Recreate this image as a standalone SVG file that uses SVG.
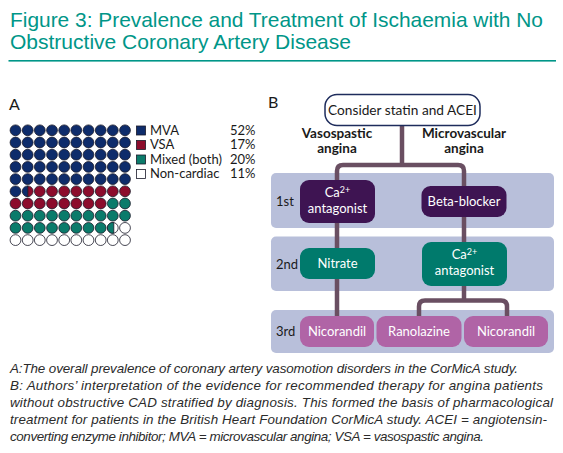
<svg xmlns="http://www.w3.org/2000/svg" width="563" height="453" viewBox="0 0 563 453">
<style>
.title{font-family:"Liberation Sans",Arial,sans-serif;font-size:21px;fill:#009688}
.cap{font-family:"Liberation Sans",Arial,sans-serif;font-size:13.4px;font-style:italic;fill:#2b2b2b}
.lbl{font-family:Lato,"Noto Sans",sans-serif;font-size:16px;fill:#1a1a1a}
.leg{font-family:Lato,"Noto Sans",sans-serif;font-size:13px;fill:#1a1a1a}
.nt{font-family:Lato,"Noto Sans",sans-serif;font-size:13px;fill:#ffffff;text-anchor:middle}
.bt{font-family:Lato,"Noto Sans",sans-serif;font-size:13.5px;font-weight:bold;fill:#1a1a1a;text-anchor:middle}
.band{fill:#b8bfda}
.conn{fill:none;stroke:#6a4f62;stroke-width:4.5}
.b{fill:#0e2c6b;stroke:#1a1a2a;stroke-width:0.8}
.r{fill:#8c0c2c;stroke:#1a1a2a;stroke-width:0.8}
.g{fill:#0b7b6b;stroke:#1a1a2a;stroke-width:0.8}
.w{fill:#ffffff;stroke:#1a1a2a;stroke-width:0.8}
.dp{fill:#3e1452}
.tl{fill:#007a6c}
.pk{fill:#b064a6}
</style>
<defs>
<circle id="d" r="5.4"/>
</defs>
<g id="title">
<text class="title" x="10" y="27.3" textLength="533" lengthAdjust="spacingAndGlyphs">Figure 3: Prevalence and Treatment of Ischaemia with No</text>
<text class="title" x="10" y="49" textLength="341" lengthAdjust="spacingAndGlyphs">Obstructive Coronary Artery Disease</text>
<rect x="8.5" y="60" width="547.5" height="1.6" fill="#009688"/>
</g>
<g id="panelA">
<text class="lbl" x="9" y="110">A</text>
<g id="waffle">
<g class="b">
<use href="#d" x="15.5" y="130.3"/><use href="#d" x="27.7" y="130.3"/><use href="#d" x="39.8" y="130.3"/><use href="#d" x="52" y="130.3"/><use href="#d" x="64.2" y="130.3"/><use href="#d" x="76.3" y="130.3"/><use href="#d" x="88.5" y="130.3"/><use href="#d" x="100.7" y="130.3"/><use href="#d" x="112.8" y="130.3"/><use href="#d" x="125" y="130.3"/>
<use href="#d" x="15.5" y="142.5"/><use href="#d" x="27.7" y="142.5"/><use href="#d" x="39.8" y="142.5"/><use href="#d" x="52" y="142.5"/><use href="#d" x="64.2" y="142.5"/><use href="#d" x="76.3" y="142.5"/><use href="#d" x="88.5" y="142.5"/><use href="#d" x="100.7" y="142.5"/><use href="#d" x="112.8" y="142.5"/><use href="#d" x="125" y="142.5"/>
<use href="#d" x="15.5" y="154.7"/><use href="#d" x="27.7" y="154.7"/><use href="#d" x="39.8" y="154.7"/><use href="#d" x="52" y="154.7"/><use href="#d" x="64.2" y="154.7"/><use href="#d" x="76.3" y="154.7"/><use href="#d" x="88.5" y="154.7"/><use href="#d" x="100.7" y="154.7"/><use href="#d" x="112.8" y="154.7"/><use href="#d" x="125" y="154.7"/>
<use href="#d" x="15.5" y="166.9"/><use href="#d" x="27.7" y="166.9"/><use href="#d" x="39.8" y="166.9"/><use href="#d" x="52" y="166.9"/><use href="#d" x="64.2" y="166.9"/><use href="#d" x="76.3" y="166.9"/><use href="#d" x="88.5" y="166.9"/><use href="#d" x="100.7" y="166.9"/><use href="#d" x="112.8" y="166.9"/><use href="#d" x="125" y="166.9"/>
<use href="#d" x="15.5" y="179.1"/><use href="#d" x="27.7" y="179.1"/><use href="#d" x="39.8" y="179.1"/><use href="#d" x="52" y="179.1"/><use href="#d" x="64.2" y="179.1"/><use href="#d" x="76.3" y="179.1"/><use href="#d" x="88.5" y="179.1"/><use href="#d" x="100.7" y="179.1"/><use href="#d" x="112.8" y="179.1"/><use href="#d" x="125" y="179.1"/>
<use href="#d" x="15.5" y="191.3"/>
</g>
<path class="r" d="M27.7,185.9 A5.4,5.4 0 0 1 27.7,196.7 Z"/>
<path class="b" d="M27.7,185.9 A5.4,5.4 0 0 0 27.7,196.7 Z"/>
<g class="r">
<use href="#d" x="39.8" y="191.3"/><use href="#d" x="52" y="191.3"/><use href="#d" x="64.2" y="191.3"/><use href="#d" x="76.3" y="191.3"/><use href="#d" x="88.5" y="191.3"/><use href="#d" x="100.7" y="191.3"/><use href="#d" x="112.8" y="191.3"/><use href="#d" x="125" y="191.3"/>
<use href="#d" x="15.5" y="203.5"/><use href="#d" x="27.7" y="203.5"/><use href="#d" x="39.8" y="203.5"/><use href="#d" x="52" y="203.5"/><use href="#d" x="64.2" y="203.5"/><use href="#d" x="76.3" y="203.5"/><use href="#d" x="88.5" y="203.5"/><use href="#d" x="100.7" y="203.5"/>
</g>
<g class="g">
<use href="#d" x="112.8" y="203.5"/><use href="#d" x="125" y="203.5"/>
<use href="#d" x="15.5" y="215.7"/><use href="#d" x="27.7" y="215.7"/><use href="#d" x="39.8" y="215.7"/><use href="#d" x="52" y="215.7"/><use href="#d" x="64.2" y="215.7"/><use href="#d" x="76.3" y="215.7"/><use href="#d" x="88.5" y="215.7"/><use href="#d" x="100.7" y="215.7"/><use href="#d" x="112.8" y="215.7"/><use href="#d" x="125" y="215.7"/>
<use href="#d" x="15.5" y="227.9"/><use href="#d" x="27.7" y="227.9"/><use href="#d" x="39.8" y="227.9"/><use href="#d" x="52" y="227.9"/><use href="#d" x="64.2" y="227.9"/><use href="#d" x="76.3" y="227.9"/><use href="#d" x="88.5" y="227.9"/><use href="#d" x="100.7" y="227.9"/>
</g>
<use class="w" href="#d" x="112.8" y="227.9"/>
<path class="g" d="M113.8,222.6 A5.4,5.4 0 1 0 113.8,233.2 Z"/>
<g class="w">
<use href="#d" x="125" y="227.9"/>
<use href="#d" x="15.5" y="240.1"/><use href="#d" x="27.7" y="240.1"/><use href="#d" x="39.8" y="240.1"/><use href="#d" x="52" y="240.1"/><use href="#d" x="64.2" y="240.1"/><use href="#d" x="76.3" y="240.1"/><use href="#d" x="88.5" y="240.1"/><use href="#d" x="100.7" y="240.1"/><use href="#d" x="112.8" y="240.1"/><use href="#d" x="125" y="240.1"/>
</g>
</g>
<g id="legend">
<rect class="b" x="136.5" y="126" width="9" height="9"/>
<rect class="r" x="136.5" y="140.5" width="9" height="9"/>
<rect class="g" x="136.5" y="155" width="9" height="9"/>
<rect class="w" x="136.5" y="169.5" width="9" height="9"/>
<text class="leg" x="150" y="134.5">MVA</text>
<text class="leg" x="150" y="149">VSA</text>
<text class="leg" x="150" y="163.5">Mixed (both)</text>
<text class="leg" x="150" y="178">Non-cardiac</text>
<text class="leg" x="255.5" y="134.5" text-anchor="end">52%</text>
<text class="leg" x="255.5" y="149" text-anchor="end">17%</text>
<text class="leg" x="255.5" y="163.5" text-anchor="end">20%</text>
<text class="leg" x="255.5" y="178" text-anchor="end">11%</text>
</g>
</g>
<g id="panelB">
<text class="lbl" x="268" y="108">B</text>
<g id="bands">
<rect class="band" x="271" y="173" width="283" height="55" rx="5"/>
<rect class="band" x="271" y="236.5" width="283" height="54.5" rx="5"/>
<rect class="band" x="271" y="310" width="283" height="43" rx="5"/>
<text class="leg" x="276" y="206">1st</text>
<text class="leg" x="276" y="268.5">2nd</text>
<text class="leg" x="276" y="336">3rd</text>
</g>
<g id="connectors">
<path class="conn" d="M402,126 V165"/>
<path class="conn" d="M337,182 V171 Q337,165 343,165 H458 Q464,165 464,171 V188"/>
<path class="conn" d="M337,222 V318"/>
<path class="conn" d="M464,215 V244"/>
<path class="conn" d="M464,285 V300.5"/>
<path class="conn" d="M419,318 V306.5 Q419,300.5 425,300.5 H501 Q507,300.5 507,306.5 V318"/>
</g>
<text class="bt" x="337" y="138">Vasospastic</text>
<text class="bt" x="337" y="153">angina</text>
<text class="bt" x="464" y="138">Microvascular</text>
<text class="bt" x="464" y="153">angina</text>
<g id="n-statin">
<rect x="325" y="94.5" width="155" height="31" rx="12" fill="#ffffff" stroke="#1e2c5c" stroke-width="1.5"/>
<text class="leg" x="402.5" y="114.5" text-anchor="middle" style="font-size:13.7px">Consider statin and ACEI</text>
</g>
<g id="n-ca1">
<rect class="dp" x="300" y="180" width="75" height="43" rx="9"/>
<text class="nt" x="337.5" y="197">Ca<tspan font-size="9" dy="-4">2+</tspan></text>
<text class="nt" x="337.5" y="213">antagonist</text>
</g>
<g id="n-beta">
<rect class="dp" x="421.5" y="186" width="85" height="31" rx="9"/>
<text class="nt" x="464" y="206">Beta-blocker</text>
</g>
<g id="n-nitrate">
<rect class="tl" x="300" y="248" width="75" height="31" rx="9"/>
<text class="nt" x="337.5" y="268">Nitrate</text>
</g>
<g id="n-ca2">
<rect class="tl" x="422" y="242" width="85" height="44" rx="9"/>
<text class="nt" x="464.5" y="259">Ca<tspan font-size="9" dy="-4">2+</tspan></text>
<text class="nt" x="464.5" y="275">antagonist</text>
</g>
<g id="n-nico1">
<rect class="pk" x="300" y="316" width="74" height="31" rx="9"/>
<text class="nt" x="337" y="336">Nicorandil</text>
</g>
<g id="n-rano">
<rect class="pk" x="376.5" y="316" width="85" height="31" rx="9"/>
<text class="nt" x="419" y="336">Ranolazine</text>
</g>
<g id="n-nico2">
<rect class="pk" x="464" y="316" width="84" height="31" rx="9"/>
<text class="nt" x="506" y="336">Nicorandil</text>
</g>
</g>
<g id="caption">
<text class="cap" x="10" y="372.5" textLength="508" lengthAdjust="spacing">A:The overall prevalence of coronary artery vasomotion disorders in the CorMicA study.</text>
<text class="cap" x="10" y="389.5" textLength="533" lengthAdjust="spacing">B: Authors’ interpretation of the evidence for recommended therapy for angina patients</text>
<text class="cap" x="10" y="406.5" textLength="543" lengthAdjust="spacing">without obstructive CAD stratified by diagnosis. This formed the basis of pharmacological</text>
<text class="cap" x="10" y="423.5" textLength="537" lengthAdjust="spacing">treatment for patients in the British Heart Foundation CorMicA study. ACEI = angiotensin-</text>
<text class="cap" x="10" y="440.5" textLength="474" lengthAdjust="spacing">converting enzyme inhibitor; MVA = microvascular angina; VSA = vasospastic angina.</text>
</g>
</svg>
